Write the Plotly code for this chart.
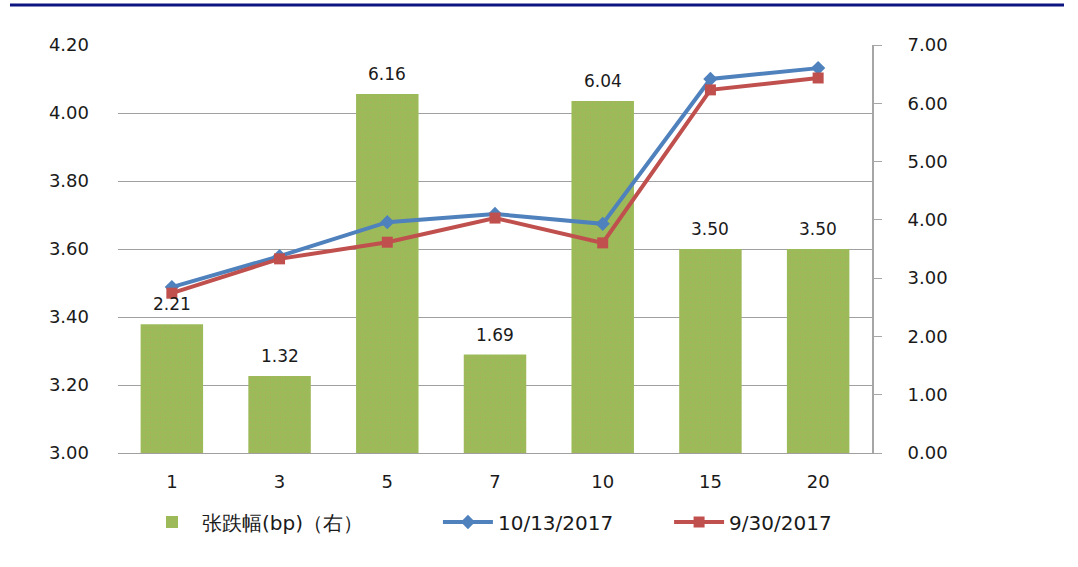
import plotly.graph_objects as go

categories = ["1", "3", "5", "7", "10", "15", "20"]
change_bp = [2.21, 1.32, 6.16, 1.69, 6.04, 3.50, 3.50]
yield_1013 = [3.488, 3.579, 3.679, 3.703, 3.674, 4.100, 4.132]
yield_0930 = [3.470, 3.571, 3.620, 3.691, 3.618, 4.068, 4.103]
left_ticks = [3.00, 3.20, 3.40, 3.60, 3.80, 4.00, 4.20]
right_ticks = [0, 1, 2, 3, 4, 5, 6, 7]
series_names = ["张跌幅(bp)（右）", "10/13/2017", "9/30/2017"]

FONT = "DejaVu Sans"
TXT = "#1a1a1a"
NB = "\u00a0"

fig = go.Figure()
fig.add_trace(go.Bar(
    x=categories, y=change_bp, name=series_names[0] + NB * 11, yaxis="y",
    marker=dict(color="#9BBB59", line=dict(width=0),
                pattern=dict(shape=".", fgcolor="#B9A060", size=5, solidity=0.12)),
    width=0.58,
))
fig.add_trace(go.Scatter(
    x=categories, y=yield_1013, name=series_names[1] + NB * 8, yaxis="y2", mode="lines+markers",
    line=dict(color="#4F81BD", width=4), marker=dict(symbol="diamond", size=11, color="#4F81BD"),
))
fig.add_trace(go.Scatter(
    x=categories, y=yield_0930, name=series_names[2], yaxis="y2", mode="lines+markers",
    line=dict(color="#C0504D", width=4), marker=dict(symbol="square", size=11, color="#C0504D"),
))

for i, v in enumerate(change_bp):
    fig.add_annotation(x=i, xref="x", y=v, yref="y", text=f"{v:.2f}", showarrow=False,
                       yanchor="bottom", yshift=8, font=dict(family=FONT, size=17, color=TXT))

W, H = 1078, 567
L, T, PW, PH = 118, 45, 754, 408
fig.add_shape(type="line", xref="paper", yref="paper",
              x0=(10 - L) / PW, x1=(1064 - L) / PW,
              y0=1 + (T - 5) / PH, y1=1 + (T - 5) / PH,
              line=dict(color="#0c1580", width=3))

fig.update_layout(
    width=W, height=H,
    margin=dict(l=L, r=W - L - PW, t=T, b=H - T - PH, pad=0),
    paper_bgcolor="white", plot_bgcolor="white",
    font=dict(family=FONT, size=17, color=TXT),
    showlegend=True,
    legend=dict(orientation="h", x=(142 - L) / PW, xanchor="left", y=-(522 - T - PH) / PH,
                yanchor="middle", font=dict(family=FONT, size=20, color=TXT), itemwidth=50,
                traceorder="normal"),
    bargap=0.42,
    xaxis=dict(type="category", categoryarray=categories, range=[-0.5, 6.5],
               showline=True, linecolor="#A0A0A0", linewidth=1,
               showgrid=False, ticks="", ticklabelstandoff=12,
               tickfont=dict(family=FONT, size=18, color=TXT)),
    yaxis=dict(side="right", range=[0, 7], tickvals=right_ticks, tickformat=".2f",
               showgrid=False, zeroline=False, showline=True, linecolor="#A6A6A6", linewidth=2,
               ticks="outside", ticklen=8, tickcolor="#A6A6A6", tickwidth=1,
               ticklabelstandoff=22, tickfont=dict(family=FONT, size=18, color=TXT)),
    yaxis2=dict(overlaying="y", side="left", range=[3.0, 4.2], tickvals=left_ticks,
                tickformat=".2f", showgrid=True, gridcolor="#A0A0A0", gridwidth=1,
                zeroline=False, showline=False, ticks="", ticklabelstandoff=28,
                tickfont=dict(family=FONT, size=18, color=TXT)),
)

fig.write_html("out.html", config={"displayModeBar": False},
               post_script="document.body.style.margin='0';")
